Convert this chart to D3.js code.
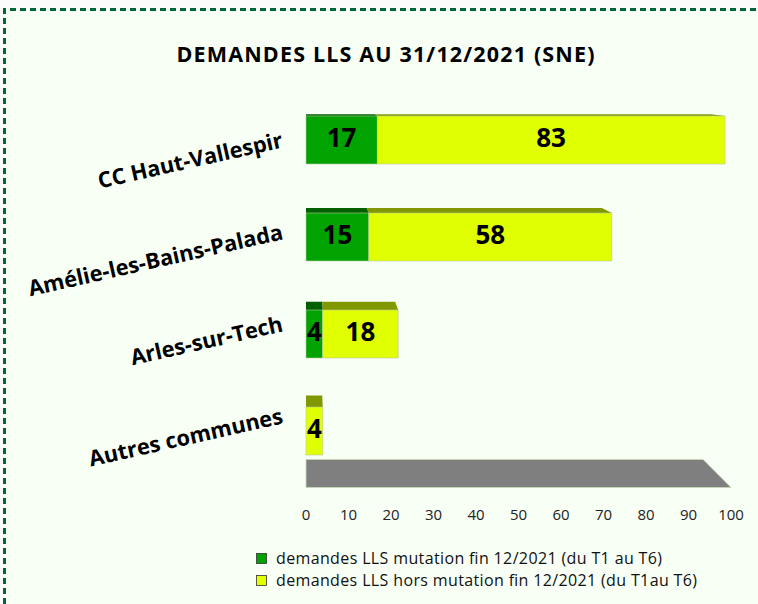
<!DOCTYPE html>
<html>
<head>
<meta charset="utf-8">
<script src="https://cdn.jsdelivr.net/npm/d3@7"></script>
<style>
  html, body { margin: 0; padding: 0; background: #fbfbfb; }
  svg { display: block; }
</style>
</head>
<body>
<svg id="chart" width="758" height="604"></svg>
<script>
// Demandes de logement social au 31/12/2021 (SNE)
const categories = ["CC Haut-Vallespir", "Amélie-les-Bains-Palada", "Arles-sur-Tech", "Autres communes"];
const mutation = [17, 15, 4, 0];
const horsMutation = [83, 58, 18, 4];
const tickValues = [0, 10, 20, 30, 40, 50, 60, 70, 80, 90, 100];
const seriesNames = [
  "demandes LLS mutation fin 12/2021 (du T1 au T6)",
  "demandes LLS hors mutation fin 12/2021 (du T1au T6)"
];

const svg = d3.select("#chart");
const W = 758, H = 604;
const font = "'Open Sans', sans-serif";

// Frame: light green panel with dashed dark green border
svg.append("rect").attr("x", 4).attr("y", 9).attr("width", W + 10).attr("height", H + 10)
  .attr("fill", "#f8fff5");
svg.append("path")
  .attr("d", `M4.5,${H + 10} L4.5,9.5 L${W + 10},9.5`)
  .attr("fill", "none").attr("stroke", "#00663a").attr("stroke-width", 3)
  .attr("stroke-dasharray", "6 4");

// Title
svg.append("text").attr("x", 176.5).attr("y", 62)
  .attr("font-family", font).attr("font-weight", "bold").attr("font-size", 21.5)
  .attr("textLength", 418).attr("lengthAdjust", "spacing")
  .attr("fill", "#000").text("DEMANDES LLS AU 31/12/2021 (SNE)");

// Scales
const xBar = d3.scaleLinear().domain([0, 100]).range([306, 725]);
const xAxis = d3.scaleLinear().domain([0, 100]).range([306, 731]);
const yPos = d3.scalePoint().domain(categories).range([140, 431]);
// category labels sit on the back wall, slightly compressed by the perspective
const yLabel = d3.scalePoint().domain(categories).range([147, 423]);
const barH = 48;

// Simple perspective toward a vanishing point (top-left of the plot)
const vp = [306, 60];
const barDepth = 0.033, floorDepth = 0.0656;
const back = (p, k) => [p[0] + k * (vp[0] - p[0]), p[1] + k * (vp[1] - p[1])];

// Floor
const floorFront = [[xAxis(0), 487.5], [xAxis(100), 487.5]];
const floorPts = [floorFront[0], floorFront[1], back(floorFront[1], floorDepth), back(floorFront[0], floorDepth)];
svg.append("polygon").attr("points", floorPts.map(p => p.join(",")).join(" "))
  .attr("fill", "#7f7f7f").attr("stroke", "#c8d8b8").attr("stroke-width", 0.8);

// Axis tick labels along the floor front edge
svg.append("g").selectAll("text").data(tickValues).join("text")
  .attr("x", d => xAxis(d)).attr("y", 520).attr("text-anchor", "middle")
  .attr("font-family", font).attr("font-size", 15).attr("fill", "#222")
  .text(d => d);

// Stacked 3D bars
const colors = [
  { front: "#00a300", top: "#006000" },
  { front: "#e0ff00", top: "#829800" }
];
const stacks = categories.map((c, i) => {
  const segs = [];
  let acc = 0;
  [mutation[i], horsMutation[i]].forEach((v, s) => {
    segs.push({ cat: c, s, v, x0: acc, x1: acc + v });
    acc += v;
  });
  return segs;
});

const gBars = svg.append("g");
stacks.forEach(segs => {
  segs.filter(d => d.v > 0).forEach(d => {
    const yc = yPos(d.cat), yTop = yc - barH / 2;
    const a = [xBar(d.x0), yTop], b = [xBar(d.x1), yTop];
    const topPts = [a, b, back(b, barDepth), back(a, barDepth)];
    gBars.append("polygon").attr("points", topPts.map(p => p.join(",")).join(" "))
      .attr("fill", colors[d.s].top);
    gBars.append("rect")
      .attr("x", xBar(d.x0)).attr("y", yTop)
      .attr("width", xBar(d.x1) - xBar(d.x0)).attr("height", barH)
      .attr("fill", colors[d.s].front)
      .attr("stroke", "#b9c9a0").attr("stroke-width", 0.6);
    gBars.append("text")
      .attr("x", (xBar(d.x0) + xBar(d.x1)) / 2).attr("y", yc + 7)
      .attr("text-anchor", "middle").attr("font-family", font)
      .attr("font-weight", "bold").attr("font-size", 26).attr("fill", "#000")
      .text(d.v);
  });
});

// Category labels, rotated
svg.append("g").selectAll("text").data(categories).join("text")
  .attr("transform", d => `translate(284,${yLabel(d)}) rotate(-12.7)`)
  .attr("text-anchor", "end").attr("font-family", font)
  .attr("font-weight", "bold").attr("font-size", 21.8).attr("fill", "#000")
  .text(d => d);

// Legend
const legendColors = [colors[0].front, colors[1].front];
const legendWidths = [386, 421];
const lg = svg.append("g");
seriesNames.forEach((name, i) => {
  const y = 564 + i * 22;
  lg.append("rect").attr("x", 256.5).attr("y", y - 10.5).attr("width", 10).attr("height", 10)
    .attr("fill", legendColors[i]).attr("stroke", "#333").attr("stroke-width", 0.8);
  lg.append("text").attr("x", 276).attr("y", y).attr("font-family", font)
    .attr("font-size", 16).attr("fill", "#111")
    .attr("textLength", legendWidths[i]).attr("lengthAdjust", "spacing")
    .text(name);
});
</script>
</body>
</html>
